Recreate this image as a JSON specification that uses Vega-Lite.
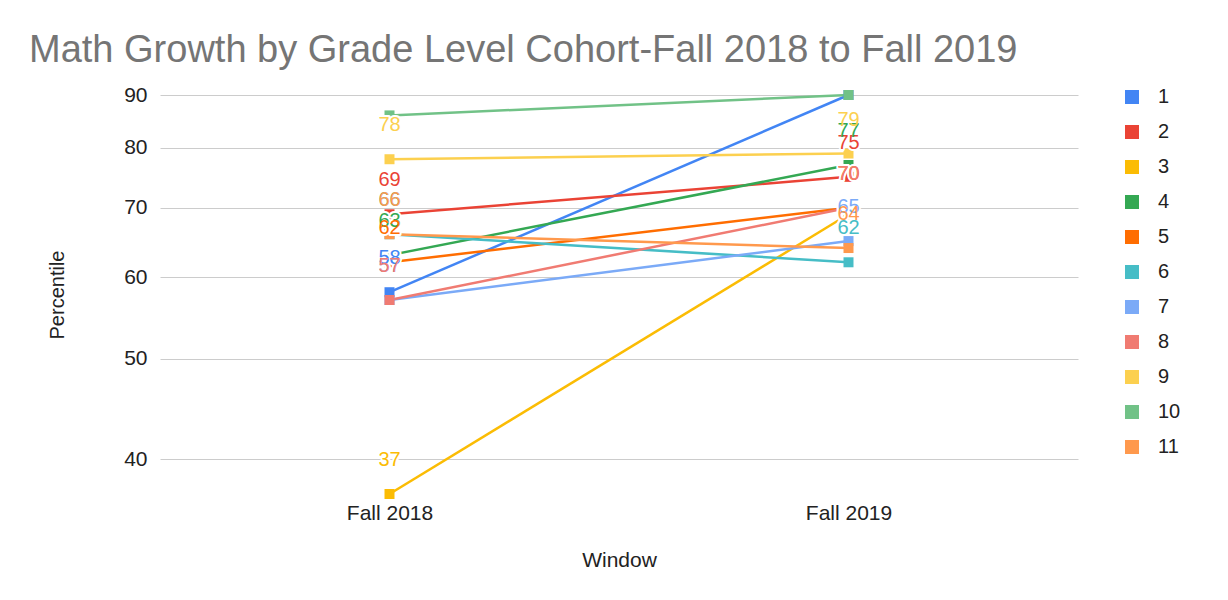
{
  "$schema": "https://vega.github.io/schema/vega-lite/v6.json",
  "width": 918,
  "height": 399,
  "autosize": {"type": "none"},
  "padding": {"left": 160, "top": 95, "right": 150, "bottom": 106},
  "background": "white",
  "title": {
    "text": "Math Growth by Grade Level Cohort-Fall 2018 to Fall 2019",
    "anchor": "start",
    "frame": "group",
    "dx": -131,
    "offset": 14,
    "fontSize": 38,
    "font": "Liberation Sans",
    "fontWeight": "normal",
    "color": "#757575"
  },
  "config": {"view": {"stroke": null}, "font": "Liberation Sans"},
  "data": {
    "values": [
      {"grade": 1, "window": "Fall 2018", "value": 58},
      {"grade": 1, "window": "Fall 2019", "value": 90},
      {"grade": 2, "window": "Fall 2018", "value": 69},
      {"grade": 2, "window": "Fall 2019", "value": 75},
      {"grade": 3, "window": "Fall 2018", "value": 37},
      {"grade": 3, "window": "Fall 2019", "value": 69},
      {"grade": 4, "window": "Fall 2018", "value": 63},
      {"grade": 4, "window": "Fall 2019", "value": 77},
      {"grade": 5, "window": "Fall 2018", "value": 62},
      {"grade": 5, "window": "Fall 2019", "value": 70},
      {"grade": 6, "window": "Fall 2018", "value": 66},
      {"grade": 6, "window": "Fall 2019", "value": 62},
      {"grade": 7, "window": "Fall 2018", "value": 57},
      {"grade": 7, "window": "Fall 2019", "value": 65},
      {"grade": 8, "window": "Fall 2018", "value": 57},
      {"grade": 8, "window": "Fall 2019", "value": 70},
      {"grade": 9, "window": "Fall 2018", "value": 78},
      {"grade": 9, "window": "Fall 2019", "value": 79},
      {"grade": 10, "window": "Fall 2018", "value": 86},
      {"grade": 10, "window": "Fall 2019", "value": 90},
      {"grade": 11, "window": "Fall 2018", "value": 66},
      {"grade": 11, "window": "Fall 2019", "value": 64}
    ]
  },
  "encoding": {
    "x": {
      "field": "window",
      "type": "ordinal",
      "scale": {"type": "point", "padding": 0.5},
      "axis": {
        "title": "Window",
        "labelAngle": 0,
        "domain": false,
        "ticks": false,
        "grid": false,
        "labelFontSize": 21,
        "labelColor": "#222222",
        "labelPadding": 8,
        "titleFontSize": 21,
        "titleFontWeight": "normal",
        "titleColor": "#222222",
        "titlePadding": 26
      }
    },
    "y": {
      "field": "value",
      "type": "quantitative",
      "scale": {"type": "log", "domain": [37, 90], "nice": false, "zero": false},
      "axis": {
        "values": [40, 50, 60, 70, 80, 90],
        "format": "d",
        "title": "Percentile",
        "domain": false,
        "ticks": false,
        "gridColor": "#cccccc",
        "labelFontSize": 21,
        "labelColor": "#222222",
        "labelPadding": 13,
        "titleFontSize": 20,
        "titleFontWeight": "normal",
        "titleColor": "#222222",
        "titlePadding": 56
      }
    },
    "color": {
      "field": "grade",
      "type": "nominal",
      "scale": {
        "domain": [1, 2, 3, 4, 5, 6, 7, 8, 9, 10, 11],
        "range": ["#4285F4", "#EA4335", "#FBBC04", "#34A853", "#FF6D01", "#46BDC6", "#7BAAF7", "#F07B72", "#FCD04F", "#71C287", "#FF994D"]
      },
      "legend": {
        "title": null,
        "orient": "none",
        "legendX": 962,
        "legendY": -8,
        "padding": 0,
        "symbolType": "square",
        "symbolSize": 196,
        "symbolStrokeWidth": 0,
        "symbolOpacity": 1,
        "labelFontSize": 20,
        "labelColor": "#222222",
        "labelOffset": 16,
        "rowPadding": 15,
        "encode": {"symbols": {"update": {"fill": {"scale": "color", "field": "value"}, "opacity": {"value": 1}}}}
      }
    }
  },
  "layer": [
    {"mark": {"type": "line", "strokeWidth": 2.5}},
    {"mark": {"type": "point", "shape": "square", "size": 100, "filled": true, "opacity": 1}},
    {
      "transform": [{"filter": "datum.value < 85 && !(datum.grade == 3 && datum.window == 'Fall 2019')"}],
      "mark": {"type": "text", "dy": -34, "fontSize": 20, "stroke": "white", "strokeWidth": 4, "strokeJoin": "round"},
      "encoding": {"text": {"field": "value"}, "color": {"value": "white"}}
    },
    {
      "transform": [{"filter": "datum.value < 85 && !(datum.grade == 3 && datum.window == 'Fall 2019')"}],
      "mark": {"type": "text", "dy": -34, "fontSize": 20},
      "encoding": {"text": {"field": "value"}}
    }
  ]
}
